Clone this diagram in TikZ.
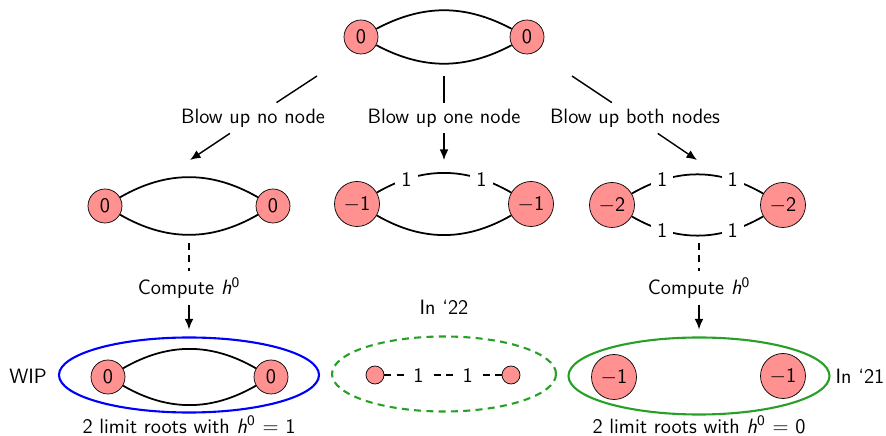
\documentclass[tikz,border=0pt]{standalone}
\usepackage{tikz}
\usetikzlibrary{shapes.geometric,arrows.meta,positioning}
\definecolor{vertred}{RGB}{255,145,145}
\definecolor{rootgreen}{RGB}{40,160,40}

\begin{document}
\begin{tikzpicture}[font=\fontsize{11.8}{13}\selectfont\sffamily,
    vert/.style={circle, draw, fill=vertred, inner sep=1pt, minimum size=0.68cm},
    bigvert/.style={vert, minimum size=0.9cm},
    smallvert/.style={vert, minimum size=0.36cm},
    wt/.style={fill=white, inner sep=3.5pt},
    edge/.style={line width=1pt},
    longdash/.style={dash pattern=on 4pt off 3pt},
    >={Latex[length=6pt,width=5pt]}]
    \useasboundingbox (0,0) rectangle (17.72,8.72);

    % original curve
    \node[vert] (t1) at (7.22,7.98) {0}; \node[vert] (t2) at (10.54,7.98) {0};
    \draw[edge] (t1) to[bend left=28] (t2); \draw[edge] (t1) to[bend right=28] (t2);

    % three blow ups
    \coordinate (p1) at (6.34,7.20); \coordinate (q1) at (3.80,5.52);
    \coordinate (p2) at (8.88,7.20); \coordinate (q2) at (8.88,5.52);
    \coordinate (p3) at (11.44,7.20); \coordinate (q3) at (13.94,5.52);
    \node (l1) at (5.06,6.36) {Blow up no node};
    \node (l2) at (8.88,6.36) {Blow up one node};
    \node (l3) at (12.70,6.36) {Blow up both nodes};
    \draw[thick] (p1) -- (l1); \draw[thick,->] (l1) -- (q1);
    \draw[thick] (p2) -- (l2); \draw[thick,->] (l2) -- (q2);
    \draw[thick] (p3) -- (l3); \draw[thick,->] (l3) -- (q3);

    % no node
    \node[vert] (a1) at (2.10,4.60) {0}; \node[vert] (a2) at (5.46,4.60) {0};
    \draw[edge] (a1) to[bend left=30] (a2); \draw[edge] (a1) to[bend right=30] (a2);

    % one node
    \node[bigvert] (b1) at (7.14,4.64) {$-$1}; \node[bigvert] (b2) at (10.62,4.64) {$-$1};
    \draw[edge] (b1) to[bend left=30] node[wt, pos=0.22] {1} node[wt, pos=0.78] {1} (b2);
    \draw[edge] (b1) to[bend right=30] (b2);

    % both nodes
    \node[bigvert] (c1) at (12.24,4.62) {$-$2}; \node[bigvert] (c2) at (15.66,4.62) {$-$2};
    \draw[edge] (c1) to[bend left=30] node[wt, pos=0.23] {1} node[wt, pos=0.77] {1} (c2);
    \draw[edge] (c1) to[bend right=30] node[wt, pos=0.23] {1} node[wt, pos=0.77] {1} (c2);

    % limit roots
    \node[vert] (d1) at (2.16,1.18) {0}; \node[vert] (d2) at (5.42,1.18) {0};
    \draw[edge] (d1) to[bend left=30] (d2); \draw[edge] (d1) to[bend right=30] (d2);
    \node[ellipse, draw=blue, line width=1.2pt, minimum width=5.2cm, minimum height=1.5cm] (E1) at (3.78,1.22) {};

    \node[smallvert] (e1) at (7.50,1.22) {}; \node[smallvert] (e2) at (10.22,1.22) {};
    \draw[edge, longdash] (e1) -- node[wt, pos=0.29] {1} node[wt, pos=0.71] {1} (e2);
    \node[ellipse, draw=rootgreen, longdash, line width=1.2pt, minimum width=4.48cm, minimum height=1.5cm] (E2) at (8.88,1.24) {};

    \node[bigvert] (f1) at (12.28,1.18) {$-$1}; \node[bigvert] (f2) at (15.66,1.20) {$-$1};
    \node[ellipse, draw=rootgreen, line width=1.2pt, minimum width=5.22cm, minimum height=1.54cm] (E3) at (13.98,1.20) {};

    % computing h^0
    \coordinate (r1) at (3.78,3.86); \coordinate (r2) at (13.98,3.86);
    \node (k1) at (3.78,2.96) {Compute \textit{h}\textsuperscript{0}};
    \node (k2) at (13.98,2.96) {Compute \textit{h}\textsuperscript{0}};
    \draw[thick, longdash] (r1) -- (k1); \draw[thick,->,shorten >=4pt] (k1) -- (E1);
    \draw[thick, longdash] (r2) -- (k2); \draw[thick,->,shorten >=4pt] (k2) -- (E3);

    % side labels
    \node (wip) at (0.56,1.20) {WIP};
    \node (y21) at (17.20,1.20) {In `21};
    \node (y22) at (8.88,2.58) {In `22};
    \node (h1) at (3.78,0.23) {2 limit roots with \textit{h}\textsuperscript{0} $=$ 1};
    \node (h2) at (13.98,0.23) {2 limit roots with \textit{h}\textsuperscript{0} $=$ 0};
\end{tikzpicture}
\end{document}
